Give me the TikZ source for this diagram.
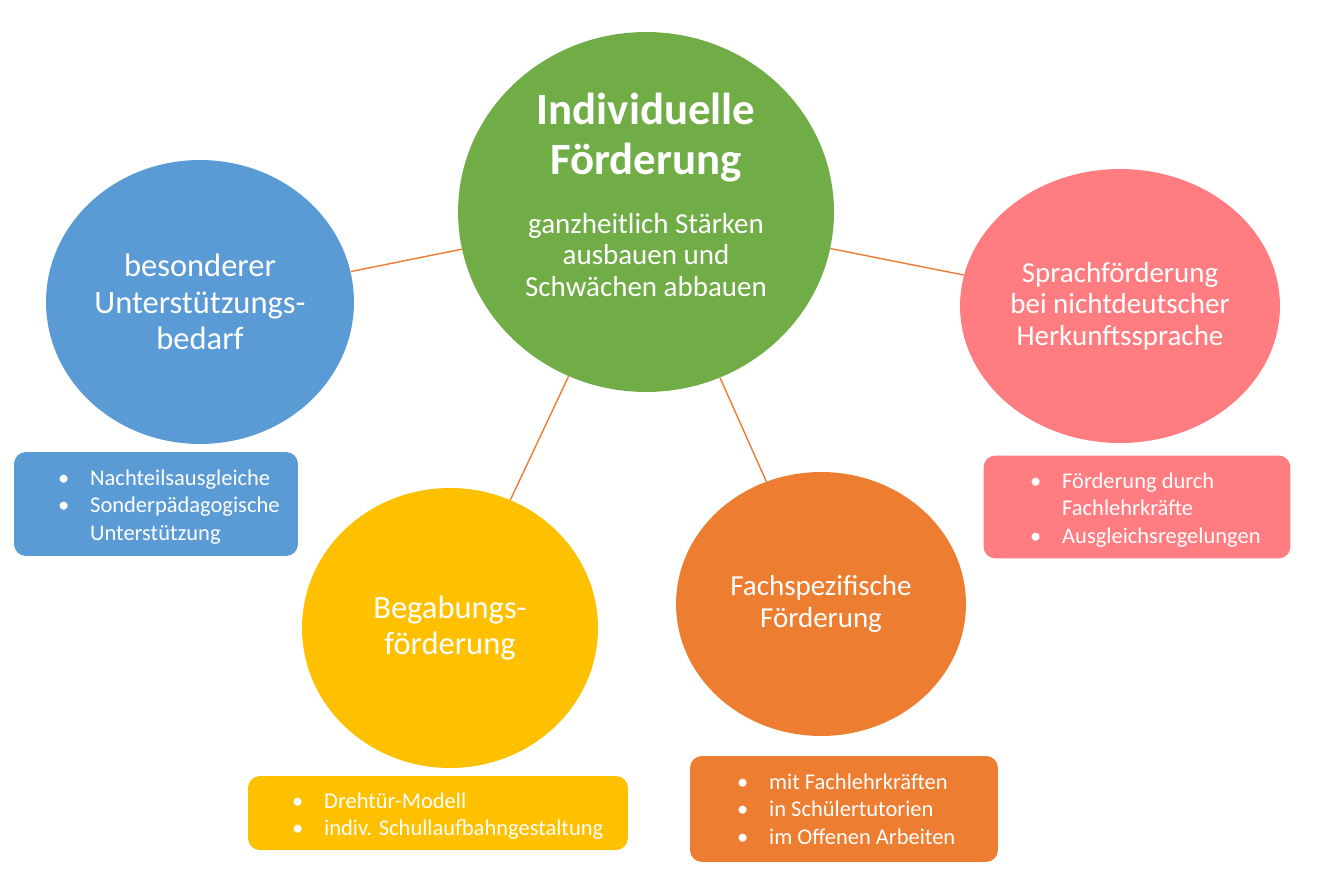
\documentclass[tikz,border=0pt]{standalone}
\usepackage{fontspec}
\setmainfont{Carlito}
\usetikzlibrary{shapes.geometric}

\definecolor{gruen}{HTML}{70AD47}
\definecolor{blau}{HTML}{5B9BD5}
\definecolor{rosa}{HTML}{FF7C80}
\definecolor{gelb}{HTML}{FFC000}
\definecolor{orange}{HTML}{ED7D31}
\newcommand{\bul}{\makebox[0.64cm][l]{\textbullet}}
\newcommand{\ein}{\hspace*{0.64cm}}

\begin{document}
\begin{tikzpicture}
[   x=0.02cm,y=-0.02cm,
    kreis/.style={ellipse,inner sep=0pt,text=white,align=center},
    kasten/.style={rounded corners=2.4mm,inner sep=0pt},
    liste/.style={anchor=west,text=white,align=left,font=\fontsize{12.8}{15.6}\selectfont},
    verbindung/.style={draw=orange,line width=0.8pt}
]
    \useasboundingbox (0,0) rectangle (1321,888);
    % Kreise
    \node[kreis,fill=gruen,minimum width=7.52cm,minimum height=7.2cm] (IF) at (646,212) {};
    \node[kreis,fill=blau,minimum width=6.16cm,minimum height=5.68cm,font=\fontsize{18.5}{20.8}\selectfont] (BU) at (200,302) {besonderer\\Unterstützungs-\\bedarf};
    \node[kreis,fill=rosa,minimum width=6.4cm,minimum height=5.48cm,font=\fontsize{16.5}{18}\selectfont] (SF) at (1120,306) {Sprachförderung\\bei nichtdeutscher\\Herkunftssprache};
    \node[kreis,fill=gelb,minimum width=5.92cm,minimum height=5.6cm,font=\fontsize{18.5}{20.8}\selectfont] (BF) at (450,628) {Begabungs-\\förderung};
    \node[kreis,fill=orange,minimum width=5.8cm,minimum height=5.28cm,font=\fontsize{16.5}{18.2}\selectfont] (FF) at (821,604) {Fachspezifische\\Förderung};
    \node[text=white,align=center,font=\fontsize{25.5}{28.5}\selectfont\bfseries] (titel) at (646,138) {Individuelle\\Förderung};
    \node[text=white,align=center,font=\fontsize{16.5}{18}\selectfont] (untertitel) at (646,255) {ganzheitlich Stärken\\ausbauen und\\Schwächen abbauen};
    % Verbindungen
    \draw[verbindung] (IF) -- (BU);
    \draw[verbindung] (IF) -- (SF);
    \draw[verbindung] (IF) -- (BF);
    \draw[verbindung] (IF) -- (FF);
    % Kaesten
    \node[kasten,fill=blau,minimum width=5.68cm,minimum height=2.08cm] (kBU) at (156,504) {};
    \node[liste] (lBU) at (52,507) {\bul Nachteilsausgleiche\\\bul Sonderpädagogische\\\ein Unterstützung};
    \node[kasten,fill=gelb,minimum width=7.6cm,minimum height=1.48cm] (kBF) at (438,813) {};
    \node[liste] (lBF) at (286,816) {\bul Drehtür-Modell\\\bul indiv. Schullaufbahngestaltung};
    \node[kasten,fill=orange,minimum width=6.16cm,minimum height=2.12cm] (kFF) at (844,809) {};
    \node[liste] (lFF) at (731,809) {\bul mit Fachlehrkräften\\\bul in Schülertutorien\\\bul im Offenen Arbeiten};
    \node[kasten,fill=rosa,minimum width=6.14cm,minimum height=2.06cm] (kSF) at (1137,507) {};
    \node[liste] (lSF) at (1024,510) {\bul Förderung durch\\\ein Fachlehrkräfte\\\bul Ausgleichsregelungen};
\end{tikzpicture}
\end{document}
